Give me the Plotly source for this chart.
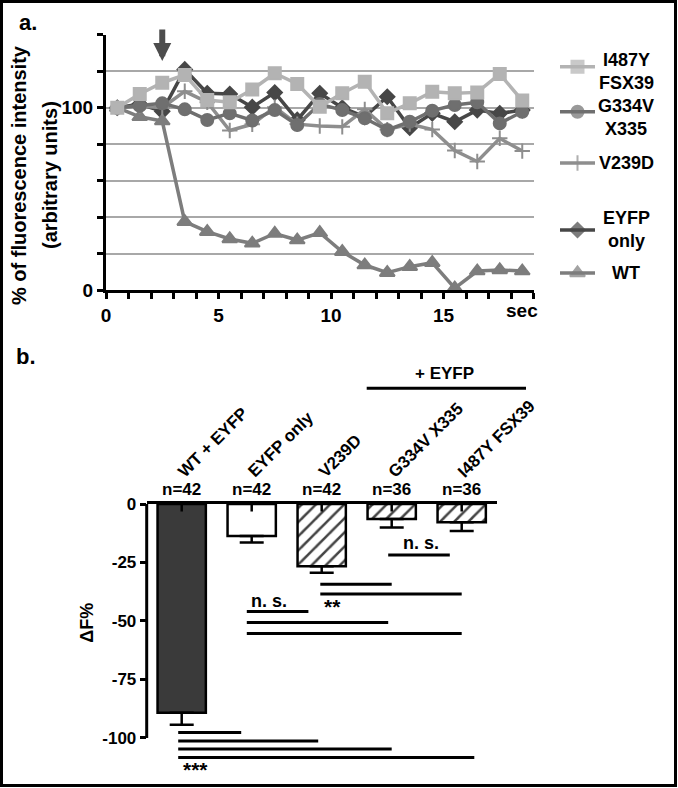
import plotly.graph_objects as go

# ---------------- data: panel a ----------------
time_sec = [0.5, 1.5, 2.5, 3.5, 4.5, 5.5, 6.5, 7.5, 8.5, 9.5, 10.5, 11.5, 12.5, 13.5, 14.5, 15.5, 16.5, 17.5, 18.5]
i487y = [100, 107.5, 113.7, 118, 104.2, 103, 110, 118.9, 113, 100.5, 107.9, 114.3, 97, 102.4, 108.8, 107.9, 108.4, 118.5, 103.9]
g334v = [100, 101, 102.4, 99.1, 93.3, 96.9, 93, 98.7, 90.5, 102, 98.7, 94.2, 87.8, 92.3, 98.4, 101.5, 103, 91.4, 97.8]
v239d = [100, 101, 100, 109, 103, 87.5, 90.9, 100.3, 91, 90, 89.5, 99.1, 88, 91, 88, 76.5, 70.5, 83.2, 76.2]
eyfp_only = [100, 102, 98, 121, 107.9, 107.5, 100.3, 108.3, 93.3, 107.9, 100, 95, 106, 89, 96.9, 92.3, 98.7, 96.9, 98.7]
wt = [100, 95, 92.7, 37.5, 32, 28, 25.6, 31, 27.4, 31.4, 21, 13.7, 9.5, 12.8, 15, 1, 10.4, 11, 10.4]

a_xtickvals = list(range(0, 20))
a_xticktext = ["0", "", "", "", "", "5", "", "", "", "", "10", "", "", "", "", "15", "", "", "", ""]
a_ytickvals = [0, 20, 40, 60, 80, 100, 120, 140]
a_yticktext = ["0", "", "", "", "", "100", "", ""]

# ---------------- data: panel b ----------------
groups = ["WT + EYFP", "EYFP only", "V239D", "G334V X335", "I487Y FSX39"]
delta_f = [-89.2, -13.7, -26.6, -6.4, -7.8]
sem = [5.2, 2.8, 2.8, 3.6, 3.7]
n_cells = ["n=42", "n=42", "n=42", "n=36", "n=36"]
b_ytickvals = [0, -25, -50, -75, -100]
b_yticktext = ["0", "-25", "-50", "-75", "-100"]
# significance bars: (start, end, level)
sig_bars = [
    (-0.05, 0.85, -97.7), (-0.05, 1.95, -101.3), (-0.05, 3.0, -104.7), (-0.05, 4.18, -108.3),
    (0.93, 1.81, -46.0), (0.93, 2.95, -50.7), (0.93, 4.0, -55.3),
    (1.98, 3.0, -34.3), (1.98, 4.0, -38.5),
    (2.95, 3.83, -21.8),
]
sig_labels = [("***", 0.2, -113.5, 21), ("n. s.", 1.25, -41.5, 18), ("**", 2.15, -44.0, 21), ("n. s.", 3.42, -16.5, 18)]

W, H = 678, 788
FONT = "Liberation Sans, Arial, sans-serif"

def px(x):
    return x / W

def py(y):
    return 1 - y / H

fig = go.Figure()
annotations = []

series = [
    ("EYFP only", eyfp_only, "#474747", "diamond", 11),
    ("WT", wt, "#7d7d7d", "triangle-up", 13),
    ("V239D", v239d, "#8e8e8e", "cross-thin", 11),
    ("G334V X335", g334v, "#6f6f6f", "circle", 12),
    ("I487Y FSX39", i487y, "#b3b3b3", "square", 12),
]
for name, vals, col, sym, sz in series:
    fig.add_trace(go.Scatter(
        x=time_sec, y=vals, mode="lines+markers", name=name,
        line=dict(color=col, width=3.5),
        marker=dict(symbol=sym, size=sz, color=col, line=dict(color=col, width=2)),
        xaxis="x", yaxis="y", showlegend=False, cliponaxis=False,
    ))

# ---- manual legend on an overlay axis in pixel units ----
legend_items = [
    ("I487Y<br>FSX39", "#b3b3b3", "square", 12, 66.7, 71),
    ("G334V<br>X335", "#6f6f6f", "circle", 12, 111.7, 117),
    ("V239D", "#8e8e8e", "cross-thin", 11, 163, 163),
    ("EYFP<br>only", "#474747", "diamond", 11, 230, 229),
    ("WT", "#7d7d7d", "triangle-up", 13, 273, 273),
]
for text, col, sym, sz, ysym, ytxt in legend_items:
    fig.add_trace(go.Scatter(
        x=[560, 577.5, 595], y=[ysym, ysym, ysym], mode="lines+markers",
        line=dict(color=col, width=3.5),
        marker=dict(symbol=sym, size=[0, sz, 0], color=col, line=dict(color=col, width=2)),
        xaxis="x3", yaxis="y3", showlegend=False, hoverinfo="skip",
    ))
    annotations.append(dict(x=626, y=ytxt, xref="x3", yref="y3", text=text, showarrow=False,
                            font=dict(family=FONT, size=18, color="black", weight="bold"),
                            xanchor="center", yanchor="middle", align="center"))

# ---- panel b bars ----
patterns = ["", "", "/", "/", "/"]
colors = ["#3a3a3a", "white", "white", "white", "white"]
fig.add_trace(go.Bar(
    x=groups, y=delta_f, width=0.69,
    marker=dict(color=colors, line=dict(color="black", width=2.5),
                pattern=dict(shape=patterns, fgcolor="black", fgopacity=1, size=10, solidity=0.25,
                             fillmode="overlay")),
    error_y=dict(type="data", symmetric=False, array=[0] * len(sem), arrayminus=sem,
                 color="black", thickness=2.5, width=12),
    xaxis="x2", yaxis="y2", showlegend=False,
))

shapes = []
for x0, x1, lvl in sig_bars:
    shapes.append(dict(type="line", xref="x2", yref="y2", x0=x0, x1=x1, y0=lvl, y1=lvl,
                       line=dict(color="black", width=3)))
# small centre marks just under the zero line
for g in groups:
    shapes.append(dict(type="line", xref="x2", yref="y2", x0=g, x1=g, y0=0, y1=-3.2,
                       line=dict(color="black", width=2.5)))
# y axis line of panel b (only from -100 to 0)
shapes.append(dict(type="line", xref="paper", yref="y2", x0=px(146.7), x1=px(146.7), y0=-100, y1=0,
                   line=dict(color="black", width=3)))
# "+ EYFP" bracket line
shapes.append(dict(type="line", xref="paper", yref="paper", x0=px(366.7), x1=px(526), y0=py(388.3), y1=py(388.3),
                   line=dict(color="black", width=3)))
# frame
shapes.append(dict(type="rect", xref="paper", yref="paper", x0=px(1.5), x1=px(675.5), y0=py(785.5), y1=py(1.5),
                   line=dict(color="black", width=3)))

for lab, x, y, sz in sig_labels:
    annotations.append(dict(x=x, y=y, xref="x2", yref="y2", text=lab, showarrow=False,
                            xanchor="center", yanchor="middle",
                            font=dict(family=FONT, size=sz, color="black", weight="bold")))
for g, n in zip(groups, n_cells):
    annotations.append(dict(x=g, y=0, xref="x2", yref="y2", text=n, showarrow=False,
                            xanchor="center", yanchor="bottom",
                            yshift=3, font=dict(family=FONT, size=17, color="black", weight="bold")))
    annotations.append(dict(x=g, y=0, xref="x2", yref="y2", text=g, showarrow=False, textangle=-45,
                            xanchor="left", yanchor="bottom", xshift=-10, yshift=20,
                            font=dict(family=FONT, size=17, color="black", weight="bold")))

def paper_text(x, y, text, size, angle=0):
    return dict(x=px(x), y=py(y), xref="paper", yref="paper", text=text, showarrow=False,
                xanchor="center", yanchor="middle", textangle=angle,
                font=dict(family=FONT, size=size, color="black", weight="bold"))

annotations += [
    paper_text(444, 373.7, "+ EYFP", 17),
    paper_text(86.7, 623, "ΔF%", 18, -90),
    paper_text(26, 357, "b.", 22),
    paper_text(28, 22, "a.", 22),
    paper_text(19, 175, "% of fluorescence intensity", 20, -90),
    paper_text(50, 175, "(arbitrary units)", 20, -90),
    dict(x=18.5, y=0, xref="x", yref="y", text="sec", showarrow=False, xanchor="center", yanchor="top",
         yshift=-8, font=dict(family=FONT, size=19, color="black", weight="bold")),
    dict(x=2.5, y=125.6, xref="x", yref="y", ax=0, ay=-33, text="", showarrow=True,
         arrowhead=2, arrowsize=0.6, arrowwidth=6, arrowcolor="#4d4d4d"),
]

tickfont = dict(family=FONT, size=19, color="black", weight="bold")
fig.update_layout(
    width=W, height=H, margin=dict(l=0, r=0, t=0, b=0, pad=0, autoexpand=False),
    paper_bgcolor="white", plot_bgcolor="rgba(0,0,0,0)",
    shapes=shapes, annotations=annotations, showlegend=False,
    xaxis=dict(domain=[px(106), px(533.5)], range=[0, 19], anchor="y", automargin=False,
               tickvals=a_xtickvals, ticktext=a_xticktext, ticks="outside", ticklen=6, tickwidth=3,
               tickcolor="black", showline=True, linewidth=3, linecolor="black", showgrid=False,
               zeroline=False, tickfont=tickfont),
    yaxis=dict(domain=[py(290), py(34.8)], range=[0, 140], anchor="x", automargin=False,
               tickvals=a_ytickvals, ticktext=a_yticktext, ticks="outside", ticklen=6, tickwidth=3,
               tickcolor="black", showline=True, linewidth=3, linecolor="black", showgrid=True,
               gridcolor="#a8a8a8", gridwidth=2, zeroline=False, tickfont=tickfont),
    xaxis2=dict(domain=[px(146.7), px(496.7)], range=[-0.5, 4.5], anchor="y2", side="top", automargin=False,
                showline=True, linewidth=3, linecolor="black", showticklabels=False, ticks="",
                showgrid=False, zeroline=False),
    yaxis2=dict(domain=[py(775.4), py(504)], range=[-116, 0], anchor="x2", automargin=False,
                tickvals=b_ytickvals, ticktext=b_yticktext, ticks="outside", ticklen=6, tickwidth=3,
                tickcolor="black", showline=False, showgrid=False, zeroline=False,
                tickfont=dict(family=FONT, size=17, color="black", weight="bold")),
    xaxis3=dict(domain=[0, 1], range=[0, W], anchor="y3", visible=False, automargin=False),
    yaxis3=dict(domain=[0, 1], range=[H, 0], anchor="x3", visible=False, automargin=False),
    bargap=0.31,
)

fig.write_html("out.html", config={"displayModeBar": False},
               post_script="document.body.style.margin='0px';")
